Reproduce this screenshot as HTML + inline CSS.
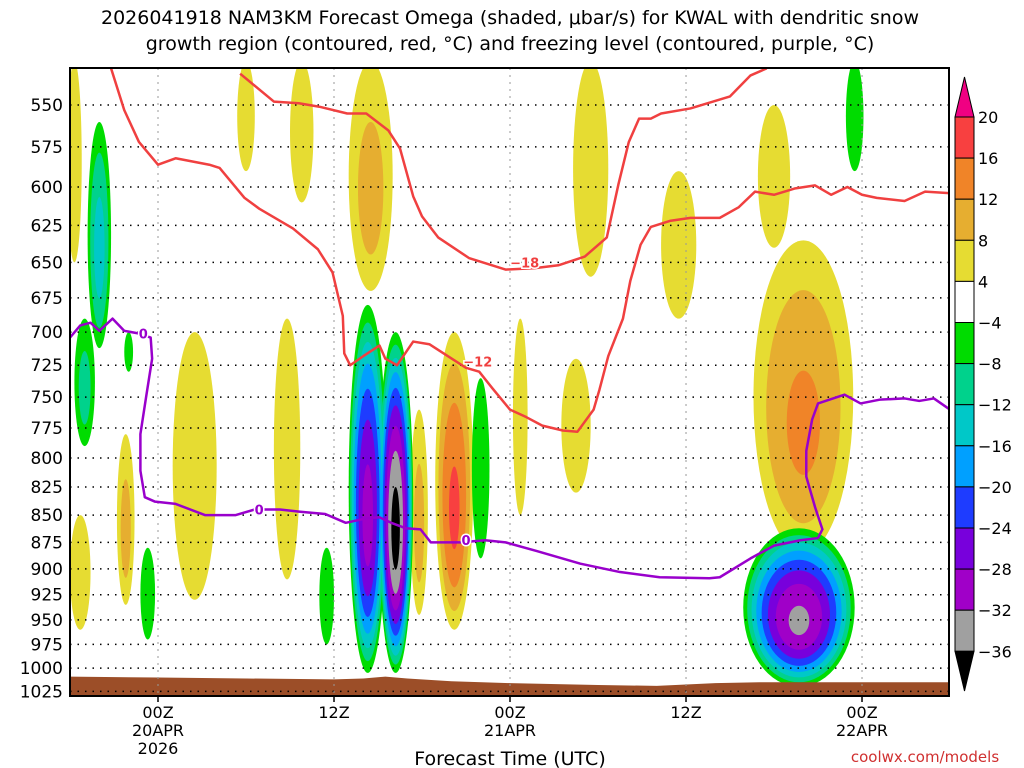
<!DOCTYPE html>
<html><head><meta charset="utf-8"><style>
html,body{margin:0;padding:0;background:#fff;}
svg{display:block;font-family:"DejaVu Sans","Liberation Sans",sans-serif;}
</style></head><body>
<svg id="chart" width="1024" height="768" viewBox="0 0 1024 768">
<defs><clipPath id="plotclip"><rect x="70" y="68" width="879" height="628"/></clipPath></defs>
<g font-size="19" text-anchor="middle" fill="#000">
<text x="510" y="24">2026041918 NAM3KM Forecast Omega (shaded, μbar/s) for KWAL with dendritic snow</text>
<text x="510" y="50">growth region (contoured, red, °C) and freezing level (contoured, purple, °C)</text>
</g>
<g id="shade" clip-path="url(#plotclip)"></g>
<g id="grid"></g>
<g id="lines" clip-path="url(#plotclip)"></g>
<g id="axes"></g>
<g id="cbar"></g>
<text x="510" y="765" font-size="19" text-anchor="middle">Forecast Time (UTC)</text>
<text x="925" y="762" font-size="15" fill="#d03030" text-anchor="middle">coolwx.com/models</text>
</svg>
<script>
// ---- data ----
const pressureTicks = [550,575,600,625,650,675,700,725,750,775,800,825,850,875,900,925,950,975,1000,1025];
const timeTickHours = [6,18,30,42,54];
const timeTickLabels = ["00Z","12Z","00Z","12Z","00Z"];
const timeTickSub = ["20APR\n2026","","21APR","","22APR"];
const cbarLevels = [20,16,12,8,4,-4,-8,-12,-16,-20,-24,-28,-32,-36];
const cbarColors = ["#f84040","#f08428","#e6ae30","#e6dc32","#ffffff","#00dc00","#00d28c","#00c8c8","#00a0ff","#1e3cff","#7800dc","#a000c8","#a0a0a0"];
// blobs: centre hour, half-width hours, top pressure, bottom pressure, peak omega
const blobHour = [0.3,2.0,1.0,4.0,0.7,3.8,5.3,8.5,14.8,12.0,15.8,20.5,17.5,20.3,22.2,23.8,26.2,28.0,30.7,35.5,34.5,41.5,48.0,50.0,53.5,49.7];
const blobHalfW = [0.5,0.8,0.7,0.3,0.7,0.6,0.5,1.5,0.9,0.6,0.8,1.5,0.5,1.3,1.2,0.6,1.3,0.6,0.5,1.2,1.0,1.2,1.1,3.4,0.6,3.8];
const blobTop = [525,560,690,700,850,780,880,700,690,525,525,525,880,680,700,760,700,735,690,525,720,590,550,635,525,862];
const blobBot = [650,712,790,730,960,935,970,930,910,590,610,670,975,1005,1005,945,960,890,850,660,830,690,640,885,590,1020];
const blobPeak = [6,-14,-10,-6,8,10,-8,6,6,6,6,10,-8,-30,-38,10,17,-7,6,6,6,6,6,13,-7,-33];
// contour lines: hour, pressure
const redAHours = [2.8,3.7,4.7,6.0,7.2,9.5,10.2,11.9,12.9,15.2,16.9,17.9,18.6,18.7,19.1,20.0,21.1,21.5,22.3,23.4,24.5,25.9,27.0,27.9,28.8,30.0,31.1,32.2,33.6,34.6,35.7,36.1,36.7,37.7,38.2,38.9,39.6,40.9,42.3,44.3,45.6,46.7,48.0,49.4,50.8,51.9,53.0,54.0,55.0,56.9,58.3,60.0];
const redAPress = [529,553,572,586,582,586,588,607,614,627,641,657,688,716,725,718,710,720,725,707,709,719,727,730,743,760,766,773,777,778,760,744,718,690,663,638,626,622,620,620,613,603,605,601,599,605,600,605,607,609,603,604];
const redBHours = [11.6,13.9,15.6,17.0,18.9,20.2,21.7,22.5,23.4,24.0,25.1,27.2,29.7,31.7,33.3,35.1,36.6,37.4,38.1,38.8,39.6,40.3,42.3,45.0,46.4,47.5];
const redBPress = [532,548,549,551,555,555,565,576,606,619,633,647,655,654,652,646,633,598,572,558,558,555,552,545,533,529];
const frzHours = [0,0.7,1.4,2.0,2.9,3.7,4.7,5.5,5.6,5.2,4.8,4.8,5.1,5.8,7.2,9.2,11.3,12.6,14.3,15.7,17.4,18.8,20.2,21.1,21.9,22.9,23.9,24.6,26.6,28.3,29.7,31.8,34.8,37.5,40.2,43.6,44.3,46.4,48.0,49.8,51.0,51.3,50.8,50.2,50.2,50.6,51.0,52.8,53.9,55.2,56.9,57.9,58.9,60.0];
const frzPress = [704,695,693,699,690,699,701,704,720,749,780,811,834,838,840,850,850,845,845,847,849,857,853,852,857,862,863,875,875,873,875,883,895,903,908,909,908,890,878,873,871,863,843,816,794,768,755,748,755,752,751,753,751,760];
const labelHours = [5.0,12.9,27.0,31.0,27.8];
const labelPress = [701,845,873,650,722];
const labelText = ["0","0","0","−18","−12"];
const labelColor = ["#9900cc","#9900cc","#9900cc","#f04040","#f04040"];
const groundHours = [0,6,12,18,20,21.5,23,26,30,36,40,44,47,52,60];
const groundPress = [1009,1010,1011,1012,1011,1009,1011,1014,1016,1018,1019,1016,1015,1015,1015];

// ---- axes functions ----
const X0=70,X1=949,Y0=68,Y1=696;
const xh = h => 70 + h*14.667;
const yp = p => 105 + 942*Math.log(p/550);
const NS="http://www.w3.org/2000/svg";
function mk(tag,attrs,parent){const e=document.createElementNS(NS,tag);for(const k in attrs)e.setAttribute(k,attrs[k]);parent.appendChild(e);return e;}
function colorFor(L){
  const map={"4":"#e6dc32","8":"#e6ae30","12":"#f08428","16":"#f84040","20":"#f00082","-4":"#00dc00","-8":"#00d28c","-12":"#00c8c8","-16":"#00a0ff","-20":"#1e3cff","-24":"#7800dc","-28":"#a000c8","-32":"#a0a0a0","-36":"#000000"};
  return map[String(L)];
}
// ---- shading ----
const shade=document.getElementById('shade');
const posL=[4,8,12,16,20], negL=[-4,-8,-12,-16,-20,-24,-28,-32,-36];
function drawLevels(levels){
  levels.forEach(L=>{
    for(let i=0;i<blobPeak.length;i++){
      const P=blobPeak[i];
      if(Math.sign(P)!==Math.sign(L)) continue;
      if(Math.abs(P)<=Math.abs(L)) continue;
      const s=Math.sqrt((Math.abs(P)-Math.abs(L))/(Math.abs(P)-4));
      const yt=yp(blobTop[i]), yb=yp(blobBot[i]);
      const cy=(yt+yb)/2, ry=(yb-yt)/2*s;
      const cyy = Math.sign(P)>0 ? cy + (yb-yt)/2*(1-s)*0.25 : cy + (yb-yt)/2*(1-s)*0.2;
      const el=mk('ellipse',{cx:xh(blobHour[i]),cy:cyy,rx:blobHalfW[i]*14.667*s,ry:ry,fill:colorFor(L)},shade);
      
      
    }
  });
}
drawLevels(posL); drawLevels(negL);
// ground
let gd=`M${X0},${Y1} `+groundHours.map((h,i)=>`L${xh(h)},${yp(groundPress[i])}`).join(' ')+` L${X1},${Y1} Z`;
const g=mk('path',{d:gd,fill:'#9c4e28'},shade);


// ---- grid ----
const grid=document.getElementById('grid');
pressureTicks.forEach(p=>{const y=yp(p); if(y>Y0&&y<Y1) mk('line',{x1:X0,x2:X1,y1:y,y2:y,stroke:'#000','stroke-width':1.5,'stroke-dasharray':'1.5 6'},grid);});
timeTickHours.forEach(h=>{mk('line',{x1:xh(h),x2:xh(h),y1:Y0,y2:Y1,stroke:'#999','stroke-width':1,'stroke-dasharray':'2 5'},grid);});
// ---- lines ----
const lines=document.getElementById('lines');
function poly(hs,ps,color,name){const d=hs.map((h,i)=>(i?'L':'M')+xh(h)+','+yp(ps[i])).join(' ');const e=mk('path',{d:d,fill:'none',stroke:color,'stroke-width':2.5,'stroke-linejoin':'round'},lines);}
poly(redAHours,redAPress,'#f04040','dgz-contour-minus12');
poly(redBHours,redBPress,'#f04040','dgz-contour-minus18');
poly(frzHours,frzPress,'#9900cc','freezing-level-contour');
labelHours.forEach((h,i)=>{
  const t=mk('text',{x:xh(h),y:yp(labelPress[i])+5,'font-size':13,'font-weight':'bold',fill:labelColor[i],'text-anchor':'middle',stroke:'#fff','stroke-width':3,'paint-order':'stroke'},lines);
  t.textContent=labelText[i];
  
  
});
// ---- axes ----
const axes=document.getElementById('axes');
mk('rect',{x:X0,y:Y0,width:X1-X0,height:Y1-Y0,fill:'none',stroke:'#000','stroke-width':2},axes);
pressureTicks.forEach(p=>{
  const t=mk('text',{x:63,y:yp(p)+6,'font-size':17,'text-anchor':'end'},axes);
  t.textContent=p;
  
  
});
timeTickHours.forEach((h,i)=>{
  mk('line',{x1:xh(h),x2:xh(h),y1:Y1,y2:Y1+6,stroke:'#000','stroke-width':1.5},axes);
  const t=mk('text',{x:xh(h),y:718,'font-size':16,'text-anchor':'middle'},axes);
  t.textContent=timeTickLabels[i];
  
  
  timeTickSub[i].split('\n').filter(s=>s).forEach((s,j)=>{
    const u=mk('text',{x:xh(h),y:736+j*18,'font-size':16,'text-anchor':'middle'},axes);
    u.textContent=s;
    
    
  });
});
// ---- colorbar ----
const cb=document.getElementById('cbar');
const cbx=955,cbw=19,cbTop=117,step=41.1;
const yc=i=>cbTop+i*step;
mk('polygon',{points:`${cbx},${cbTop} ${cbx+cbw/2},77 ${cbx+cbw},${cbTop}`,fill:'#f00082',stroke:'#000','stroke-width':1},cb);
cbarColors.forEach((c,i)=>{mk('rect',{x:cbx,y:yc(i),width:cbw,height:step,fill:c,stroke:'#000','stroke-width':1},cb);});
const yb=yc(cbarColors.length);
mk('polygon',{points:`${cbx},${yb} ${cbx+cbw/2},691 ${cbx+cbw},${yb}`,fill:'#000',stroke:'#000','stroke-width':1},cb);
cbarLevels.forEach((L,i)=>{
  const t=mk('text',{x:978,y:yc(i)+6,'font-size':16},cb);
  t.textContent=(L<0?'−'+(-L):L);
  
  
});
</script>
</body></html>
